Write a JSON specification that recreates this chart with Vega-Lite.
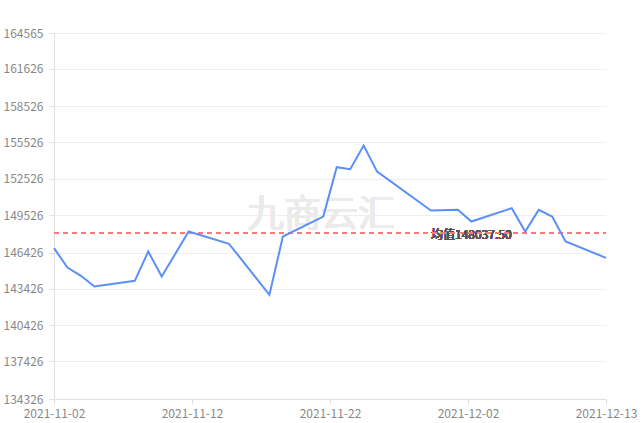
{
  "$schema": "https://vega.github.io/schema/vega-lite/v6.json",
  "width": 552,
  "height": 366,
  "autosize": {"type": "none"},
  "padding": {"left": 54, "top": 33, "right": 35, "bottom": 24},
  "background": "#ffffff",
  "config": {
    "view": {"stroke": null},
    "font": "Noto Sans CJK SC"
  },
  "data": {
    "values": [
      {"date": "2021-11-02", "price": 146791},
      {"date": "2021-11-03", "price": 145190},
      {"date": "2021-11-04", "price": 144504},
      {"date": "2021-11-05", "price": 143621},
      {"date": "2021-11-08", "price": 144092},
      {"date": "2021-11-09", "price": 146510},
      {"date": "2021-11-10", "price": 144447},
      {"date": "2021-11-12", "price": 148161},
      {"date": "2021-11-15", "price": 147146},
      {"date": "2021-11-18", "price": 142936},
      {"date": "2021-11-19", "price": 147749},
      {"date": "2021-11-22", "price": 149400},
      {"date": "2021-11-23", "price": 153478},
      {"date": "2021-11-24", "price": 153313},
      {"date": "2021-11-25", "price": 155261},
      {"date": "2021-11-26", "price": 153115},
      {"date": "2021-11-30", "price": 149895},
      {"date": "2021-12-02", "price": 149953},
      {"date": "2021-12-03", "price": 148987},
      {"date": "2021-12-06", "price": 150093},
      {"date": "2021-12-07", "price": 148161},
      {"date": "2021-12-08", "price": 149953},
      {"date": "2021-12-09", "price": 149400},
      {"date": "2021-12-10", "price": 147336},
      {"date": "2021-12-13", "price": 145990}
    ]
  },
  "encoding": {
    "x": {
      "field": "date",
      "type": "temporal",
      "scale": {
        "type": "utc",
        "domain": [
          {"year": 2021, "month": 11, "date": 2, "utc": true},
          {"year": 2021, "month": 12, "date": 13, "utc": true}
        ]
      },
      "axis": {
        "title": null,
        "values": [
          {"year": 2021, "month": 11, "date": 2, "utc": true},
          {"year": 2021, "month": 11, "date": 12, "hours": 6, "utc": true},
          {"year": 2021, "month": 11, "date": 22, "hours": 12, "utc": true},
          {"year": 2021, "month": 12, "date": 2, "hours": 18, "utc": true},
          {"year": 2021, "month": 12, "date": 13, "utc": true}
        ],
        "format": "%Y-%m-%d",
        "grid": false,
        "domainColor": "#e0e0e0",
        "tickColor": "#e0e0e0",
        "tickSize": 5,
        "labelColor": "#888888",
        "labelFontSize": 12,
        "labelPadding": 4,
        "labelOverlap": false,
        "labelBound": false,
        "labelFlush": false
      }
    },
    "y": {
      "field": "price",
      "type": "quantitative",
      "scale": {"domain": [134326, 164565], "nice": false, "zero": false},
      "axis": {
        "title": null,
        "values": [134326, 137426, 140426, 143426, 146426, 149526, 152526, 155526, 158526, 161626, 164565],
        "format": "d",
        "grid": true,
        "gridColor": "#efefef",
        "domainColor": "#e0e0e0",
        "tickColor": "#e0e0e0",
        "tickSize": 5,
        "labelColor": "#888888",
        "labelFontSize": 12,
        "labelPadding": 6
      }
    }
  },
  "layer": [
    {
      "mark": {"type": "text", "text": "九商云汇", "fontSize": 37, "color": "#ebebeb", "align": "center", "baseline": "middle"},
      "encoding": {
        "x": {"datum": {"year": 2021, "month": 11, "date": 21, "hours": 20, "utc": true}, "type": "temporal"},
        "y": {"datum": 149460}
      }
    },
    {
      "mark": {"type": "text", "text": "均值148037.50", "fontSize": 12, "color": "#555555", "align": "center", "baseline": "middle", "dy": 2},
      "encoding": {
        "x": {"datum": {"year": 2021, "month": 12, "date": 3, "utc": true}, "type": "temporal"},
        "y": {"datum": 148037.5}
      }
    },
    {
      "mark": {"type": "rule", "color": "#ff7a7a", "strokeWidth": 1.5, "strokeDash": [5, 4]},
      "encoding": {
        "x": {"value": 0},
        "x2": {"value": 552},
        "y": {"datum": 148037.5}
      }
    },
    {
      "mark": {"type": "line", "color": "#5b8ff9", "strokeWidth": 2},
      "encoding": {}
    }
  ]
}
